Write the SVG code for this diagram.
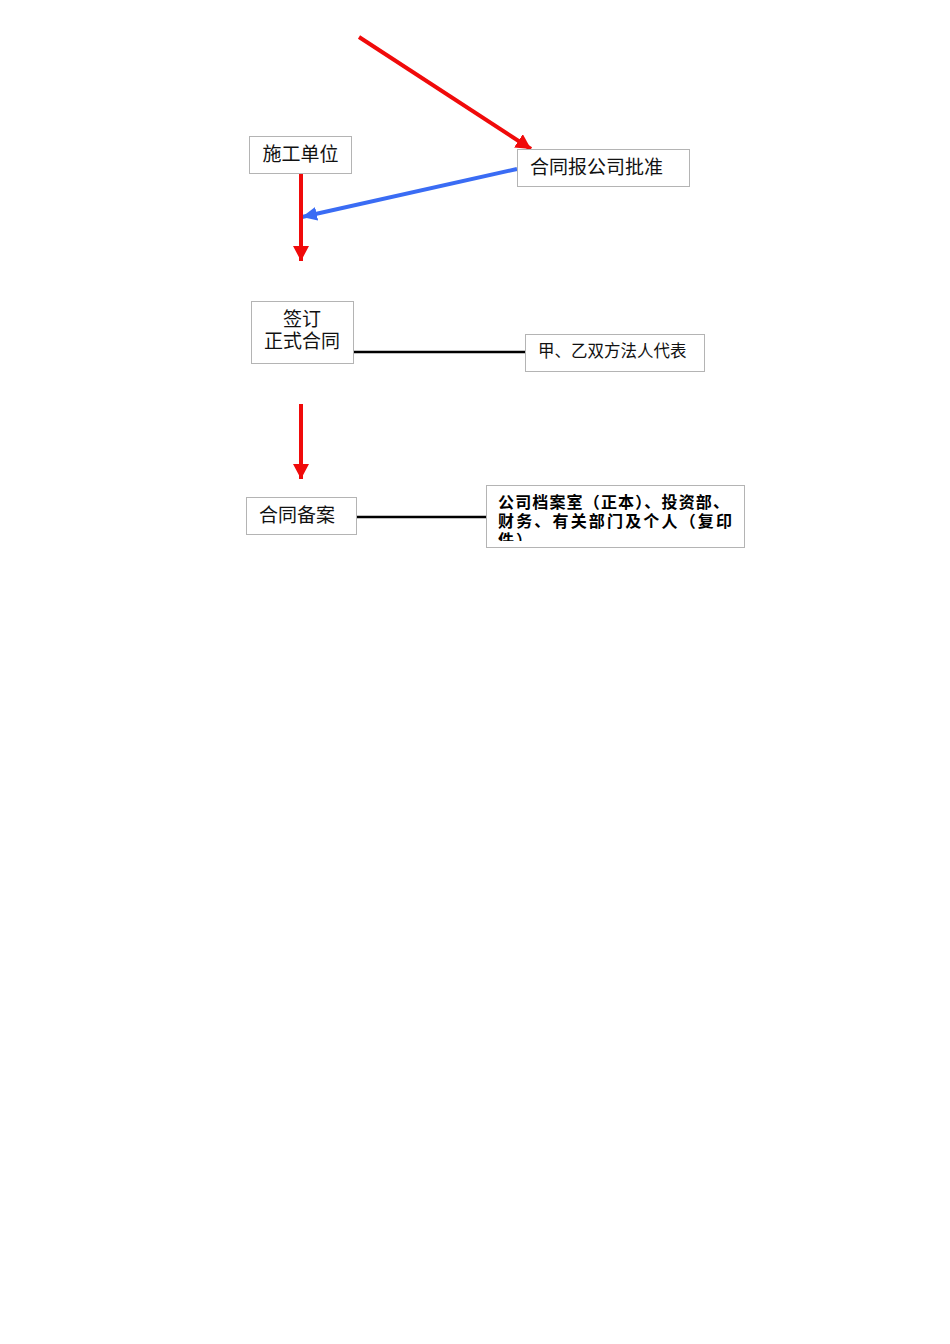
<svg xmlns="http://www.w3.org/2000/svg" width="950" height="1344" viewBox="0 0 950 1344">
<style>
.box{fill:#fff;stroke:#b4b4b4;stroke-width:1}
.t{font-family:"Noto Sans CJK SC","Noto Sans",sans-serif;fill:#111}
.b{font-weight:bold;fill:#000}
.red{stroke:#f00a0a;stroke-width:4;fill:none}
.blue{stroke:#3a6cf4;stroke-width:4;fill:none}
.blk{stroke:#000;stroke-width:2.5;fill:none}
</style>
<defs>
<marker id="hr" markerUnits="userSpaceOnUse" markerWidth="18" markerHeight="18" refX="15" refY="8" orient="auto"><path d="M0,0 L15,8 L0,16 Z" fill="#f00a0a"/></marker>
<marker id="hb" markerUnits="userSpaceOnUse" markerWidth="18" markerHeight="18" refX="15" refY="7" orient="auto"><path d="M0,0 L15,7 L0,14 Z" fill="#3a6cf4"/></marker>
<clipPath id="cp"><rect x="486" y="486" width="258" height="55"/></clipPath>
</defs>
<rect width="950" height="1344" fill="#fff"/>
<g id="connectors">
<line class="red" x1="359" y1="37" x2="531" y2="149" marker-end="url(#hr)"/>
<line class="blue" x1="517" y1="169" x2="302" y2="217" marker-end="url(#hb)"/>
<line class="red" x1="301" y1="174" x2="301" y2="261" marker-end="url(#hr)"/>
<line class="blk" x1="354" y1="352" x2="526" y2="352"/>
<line class="red" x1="301" y1="404" x2="301" y2="479" marker-end="url(#hr)"/>
<line class="blk" x1="357" y1="517" x2="486" y2="517"/>
</g>
<g id="n1">
<rect class="box" x="249.5" y="136.5" width="102" height="37"/>
<text class="t" x="300.5" y="161" font-size="19" text-anchor="middle">施工单位</text>
</g>
<g id="n2">
<rect class="box" x="517.5" y="149.5" width="172" height="37"/>
<text class="t" x="530" y="174" font-size="19">合同报公司批准</text>
</g>
<g id="n3">
<rect class="box" x="251.5" y="301.5" width="102" height="62"/>
<text class="t" x="302" y="326" font-size="19" text-anchor="middle">签订</text>
<text class="t" x="302" y="348" font-size="19" text-anchor="middle">正式合同</text>
</g>
<g id="n4">
<rect class="box" x="525.5" y="334.5" width="179" height="37"/>
<text class="t" x="538" y="357" font-size="16.5">甲、乙双方法人代表</text>
</g>
<g id="n5">
<rect class="box" x="246.5" y="497.5" width="110" height="37"/>
<text class="t" x="259" y="522" font-size="19">合同备案</text>
</g>
<g id="n6">
<rect class="box" x="486.5" y="485.5" width="258" height="62"/>
<g clip-path="url(#cp)">
<text class="t b" x="498" y="508" font-size="16" textLength="231" lengthAdjust="spacing">公司档案室（正本）、投资部、</text>
<text class="t b" x="498" y="527" font-size="16" textLength="234" lengthAdjust="spacing">财务、有关部门及个人（复印</text>
<text class="t b" x="498" y="546" font-size="16" textLength="34" lengthAdjust="spacing">件）</text>
</g>
</g>
</svg>
